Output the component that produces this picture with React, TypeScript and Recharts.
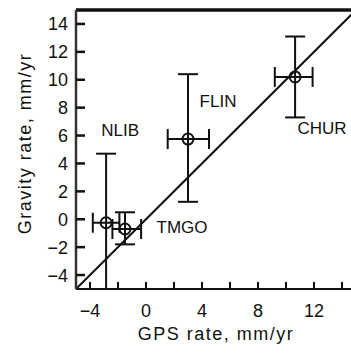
import {
  ErrorBar,
  Label,
  LabelList,
  ReferenceLine,
  Scatter,
  ScatterChart,
  XAxis,
  YAxis,
} from "recharts";

const stations = ["NLIB", "TMGO", "FLIN", "CHUR"];
const gpsRate = [-2.85, -1.5, 3.0, 10.65];
const gravityRate = [-0.25, -0.7, 5.75, 10.2];
const gpsErr = [[0.95, 0.95], [0.9, 1.15], [1.45, 1.5], [1.45, 1.25]];
const gravityErr = [[4.75, 4.95], [1.1, 1.2], [4.5, 4.65], [2.9, 2.9]];

const xTicks = [-4, -2, 0, 2, 4, 6, 8, 10, 12, 14];
const xTickLabels = [-4, 0, 4, 8, 12];
const yTicks = [-4, -2, 0, 2, 4, 6, 8, 10, 12, 14];
const domain = [-5, 15];
const oneToOne = [{ x: -5, y: -5 }, { x: 15, y: 15 }];

// label offsets from the point, px
const labelOffset: Record<string, [number, number]> = {
  NLIB: [14, -92],
  TMGO: [57, -2],
  FLIN: [30, -38],
  CHUR: [27, 52],
};

const data = stations.map((name, i) => ({
  name,
  x: gpsRate[i],
  y: gravityRate[i],
  ex: gpsErr[i],
  ey: gravityErr[i],
}));

const FONT = '"Liberation Sans", Arial, sans-serif';
const ink = "#111";

const minus = (v: number) => String(v).replace("-", "\u2212");

function OpenCircle(props: any) {
  const { cx, cy } = props;
  return <circle cx={cx} cy={cy} r={5.5} fill="none" stroke={ink} strokeWidth={2} />;
}

// ticks point into the plot
function XTick(props: any) {
  const { x, y, payload } = props;
  const v = payload.value;
  return (
    <g>
      <line x1={x} x2={x} y1={y} y2={y - 7} stroke={ink} strokeWidth={2} />
      {xTickLabels.includes(v) && (
        <text x={x} y={y + 28} textAnchor="middle" fontSize={18} fontFamily={FONT} fill={ink}>
          {minus(v)}
        </text>
      )}
    </g>
  );
}

function YTick(props: any) {
  const { x, y, payload } = props;
  return (
    <g>
      <line x1={x} x2={x + 9} y1={y} y2={y} stroke={ink} strokeWidth={2.5} />
      <text x={x - 8} y={y + 6.5} textAnchor="end" fontSize={18} fontFamily={FONT} fill={ink}>
        {minus(payload.value)}
      </text>
    </g>
  );
}

function StationLabel(props: any) {
  const { x, y, width, height, value } = props;
  const [dx, dy] = labelOffset[value] || [0, 0];
  return (
    <text
      x={x + width / 2 + dx}
      y={y + height / 2 + dy}
      textAnchor="middle"
      dominantBaseline="central"
      fontSize={17}
      fontFamily={FONT}
      fill={ink}
    >
      {value}
    </text>
  );
}

export default function App() {
  return (
    <div style={{ position: "absolute", left: 0, top: 0, width: 351, height: 354, overflow: "hidden", background: "#fff" }}>
      <ScatterChart width={356} height={354} margin={{ top: 10, right: 0, left: 0, bottom: 0 }}>
        <XAxis
          type="number"
          dataKey="x"
          domain={domain}
          ticks={xTicks}
          allowDataOverflow
          height={65}
          tickSize={0}
          tickMargin={0}
          tickLine={false}
          tick={<XTick />}
          interval={0}
          axisLine={{ stroke: ink, strokeWidth: 2 }}
        >
          <Label
            value="GPS rate,  mm/yr"
            position="insideBottom"
            offset={14}
            style={{ fontSize: 18, fontFamily: FONT, fill: ink, letterSpacing: 1.5 }}
          />
        </XAxis>
        <YAxis
          type="number"
          dataKey="y"
          domain={domain}
          ticks={yTicks}
          allowDataOverflow
          width={76}
          tickSize={0}
          tickMargin={0}
          tickLine={false}
          tick={<YTick />}
          interval={0}
          axisLine={{ stroke: "#333", strokeWidth: 2.5 }}
        >
          <Label
            value="Gravity rate,  mm/yr"
            position="center"
            angle={-90}
            dx={-13}
            dy={-6}
            style={{ fontSize: 18, fontFamily: FONT, fill: ink, letterSpacing: 1.5, textAnchor: "middle" }}
          />
        </YAxis>
        <ReferenceLine y={15} stroke={ink} strokeWidth={3.5} />
        <ReferenceLine segment={oneToOne} stroke={ink} strokeWidth={2} />
        <Scatter data={data} shape={<OpenCircle />} isAnimationActive={false}>
          <ErrorBar dataKey="ex" direction="x" width={10} stroke={ink} strokeWidth={2} />
          <ErrorBar dataKey="ey" direction="y" width={10} stroke={ink} strokeWidth={2} />
          <LabelList dataKey="name" content={<StationLabel />} />
        </Scatter>
      </ScatterChart>
    </div>
  );
}
